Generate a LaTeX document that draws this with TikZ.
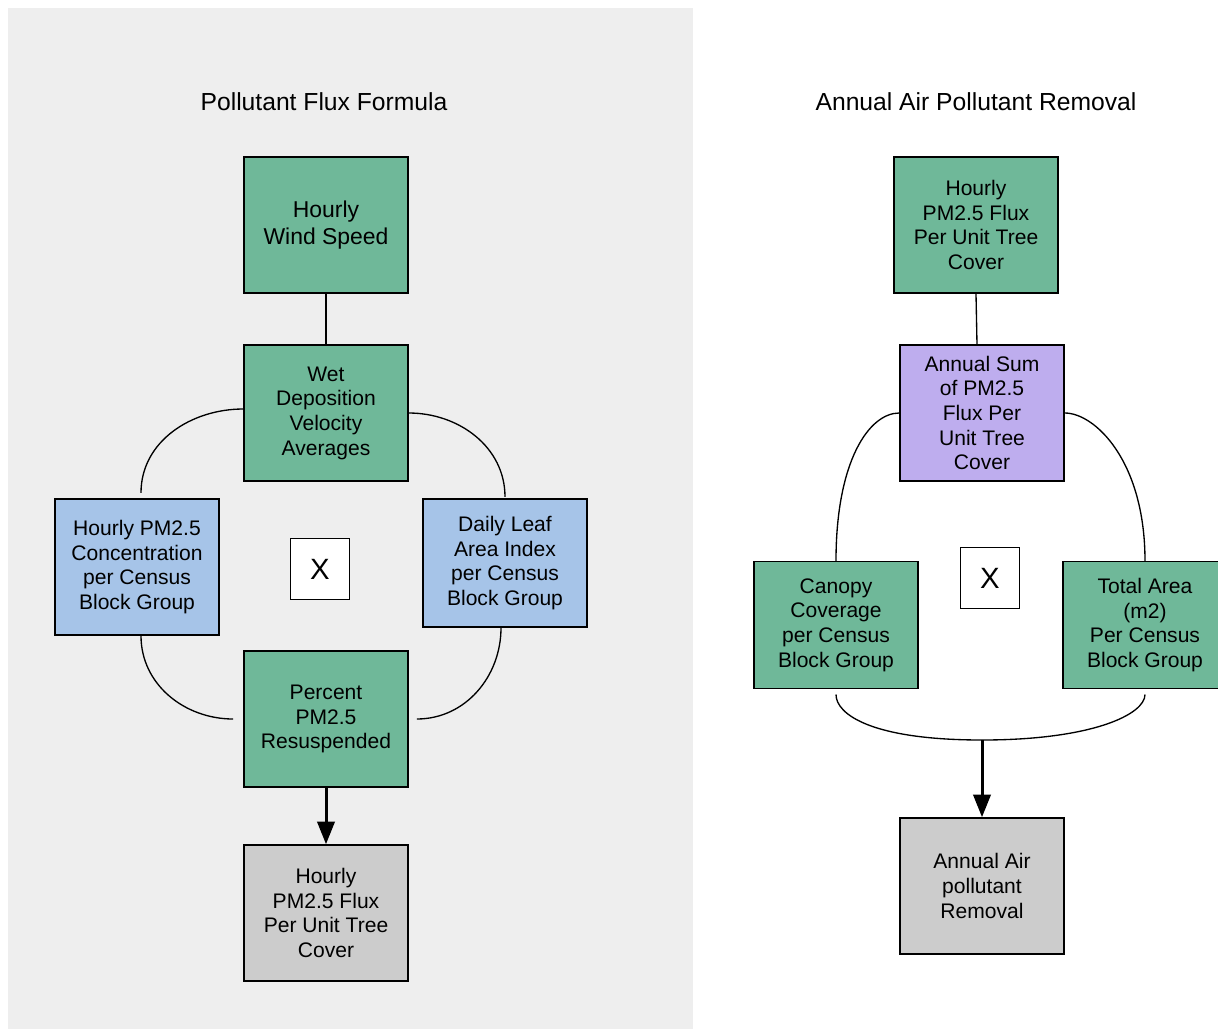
\documentclass[tikz,border=0pt]{standalone}
\usepackage{fontspec}
\setmainfont{Liberation Sans}
\usetikzlibrary{positioning,arrows.meta}

\definecolor{boxgreen}{RGB}{111,184,153}
\definecolor{boxblue}{RGB}{166,196,232}
\definecolor{boxpurple}{RGB}{190,173,238}
\definecolor{boxgrey}{RGB}{204,204,204}
\definecolor{panelgrey}{RGB}{238,238,238}

\begin{document}
\begin{tikzpicture}[x=0.75pt, y=0.75pt,
    >={Triangle[length=17pt,width=13pt]},
    bb/.style={%
      rectangle, draw=black, line width=1.2pt, align=center,
      inner sep=0pt, minimum width=123pt, minimum height=102pt,
      font=\fontsize{15.8}{18.5}\selectfont
    },
    green/.style={bb, fill=boxgreen},
    blue/.style={bb, fill=boxblue},
    purple/.style={bb, fill=boxpurple},
    grey/.style={bb, fill=boxgrey},
    times/.style={%
      rectangle, draw=black, line width=1.2pt, fill=white,
      minimum width=44pt, minimum height=46pt, inner sep=0pt,
      font=\fontsize{22}{26}\selectfont
    },
    ttl/.style={font=\fontsize{18.5}{22}\selectfont},
    link/.style={draw=black, line width=1pt},
    thick arrow/.style={->, draw=black, line width=2.25pt}
]
    \useasboundingbox (0,0) rectangle (1218,-1029);
    \fill[panelgrey] (8,-8) rectangle (693,-1029);

    % pollutant flux formula
    \node[ttl] (t1) at (324,-102) {Pollutant Flux Formula};
    \node[green, font=\fontsize{17.2}{20.3}\selectfont] (wind) at (326,-225) {Hourly\\Wind Speed};
    \node[green] (wet)  at (326,-413) {Wet\\Deposition\\Velocity\\Averages};
    \node[blue, minimum height=102pt] (conc) at (137,-567) {Hourly PM2.5\\Concentration\\per Census\\Block Group};
    \node[blue, minimum height=96pt] (leaf) at (505,-563) {Daily Leaf\\Area Index\\per Census\\Block Group};
    \node[times] (x1) at (320,-569) {X};
    \node[green] (perc) at (326,-719) {Percent\\PM2.5\\Resuspended};
    \node[grey]  (flux) at (326,-913) {Hourly\\PM2.5 Flux\\Per Unit Tree\\Cover};

    \draw[link] (wind.south) -- (wet.north);
    \draw[link] ([yshift=3pt]wet.west) to[out=180,in=90] ([xshift=3pt,yshift=4pt]conc.north);
    \draw[link] (wet.east) to[out=0,in=90] ([yshift=1pt]leaf.north);
    \draw[link] ([xshift=3pt]conc.south) to[out=-90,in=180] ([xshift=-7.5pt]perc.west);
    \draw[link] ([xshift=-3pt]leaf.south) to[out=-90,in=0] ([xshift=6pt]perc.east);
    \draw[thick arrow] (perc.south) -- (flux.north);

    % annual air pollutant removal
    \node[ttl] (t2) at (976,-102) {Annual Air Pollutant Removal};
    \node[green]  (hflux) at (976,-225) {Hourly\\PM2.5 Flux\\Per Unit Tree\\Cover};
    \node[purple] (sum)   at (982,-413) {Annual Sum\\of PM2.5\\Flux Per\\Unit Tree\\Cover};
    \node[green, minimum height=95pt] (can) at (836,-625) {Canopy\\Coverage\\per Census\\Block Group};
    \node[green, minimum height=95pt] (tot) at (1145,-625) {Total Area\\(m2)\\Per Census\\Block Group};
    \node[times] (x2) at (990,-578) {X};
    \node[grey]  (rem)   at (982,-886) {Annual Air\\pollutant\\Removal};
    \coordinate (join) at (982,-740);

    \draw[link] (hflux.south) -- ([xshift=-3.75pt]sum.north);
    \draw[link] (sum.west) .. controls +(-30,0) and +(0,100) .. (can.north);
    \draw[link] (sum.east) .. controls +(30,0) and +(0,100) .. (tot.north);
    \draw[link] ([yshift=-4pt]can.south) .. controls +(0,-20) and +(-110,0) .. (join)
                .. controls +(110,0) and +(0,-20) .. ([yshift=-4pt]tot.south);
    \draw[thick arrow] (join) -- (rem.north);

\end{tikzpicture}
\end{document}
